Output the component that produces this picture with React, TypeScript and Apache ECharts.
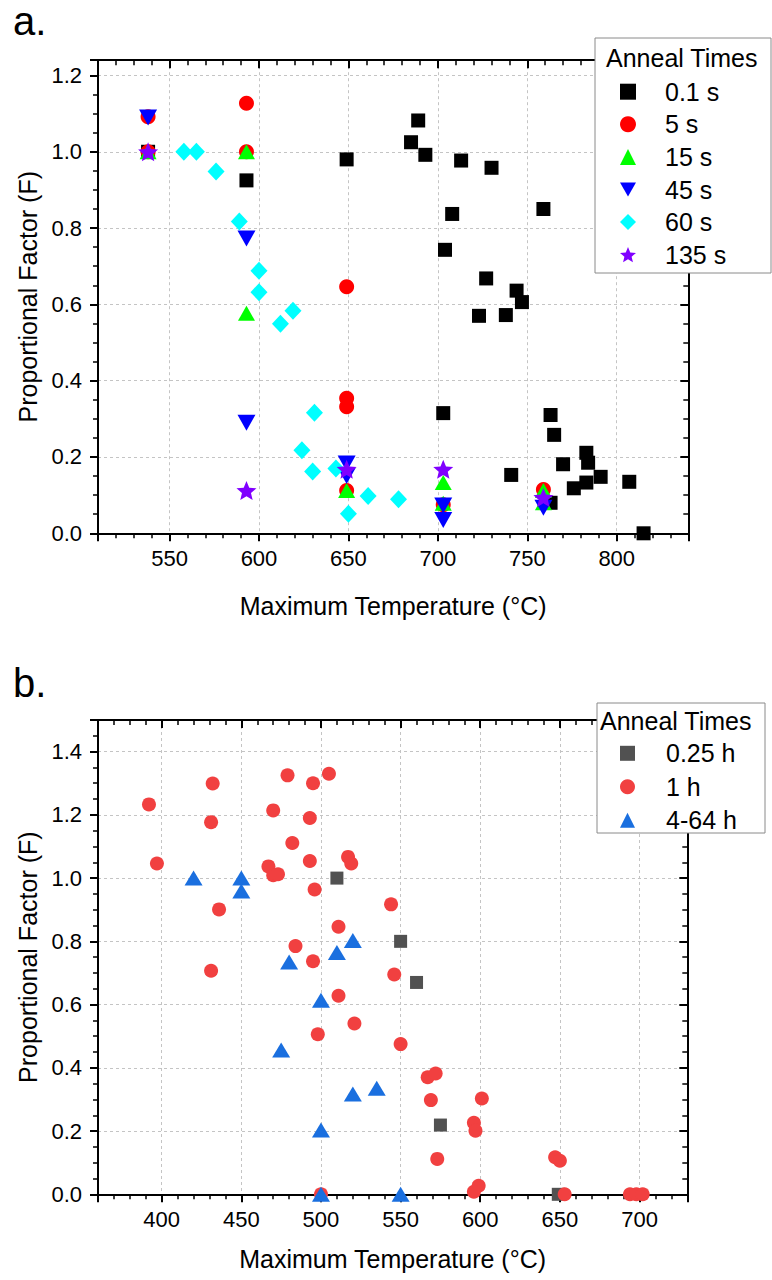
import React, { useEffect, useRef } from "react";
import * as echarts from "echarts";

const FONT = "'Liberation Sans', Arial, sans-serif";

// ---------- Chart a data ----------
const a01s: [number, number][] = [
  [538, 1.0], [593, 0.925], [689, 1.082], [685, 1.025], [693, 0.992], [649, 0.98],
  [713, 0.977], [730, 0.958], [759, 0.85], [708, 0.837], [704, 0.743], [727, 0.668],
  [744, 0.636], [747, 0.606], [723, 0.57], [738, 0.572], [703, 0.315], [763, 0.31],
  [765, 0.258], [783, 0.211], [784, 0.185], [770, 0.181], [741, 0.153], [791, 0.148],
  [807, 0.135], [783, 0.133], [776, 0.118], [763, 0.08], [815, 0.0],
];
const a5s: [number, number][] = [
  [538, 1.092], [538, 1.0], [593, 1.127], [593, 1.0], [649, 0.646], [649, 0.354],
  [649, 0.332], [649, 0.112], [703, 0.075], [759, 0.115],
];
const a15s: [number, number][] = [
  [538, 1.0], [593, 1.0], [593, 0.577], [649, 0.112], [703, 0.133], [703, 0.079],
  [759, 0.112], [759, 0.08],
];
const a45s: [number, number][] = [
  [538, 1.09], [593, 0.773], [593, 0.29], [649, 0.183], [649, 0.15], [703, 0.073],
  [703, 0.035], [759, 0.067],
];
const a60s: [number, number][] = [
  [558, 1.0], [565, 1.0], [576, 0.948], [589, 0.817], [600, 0.688], [600, 0.632],
  [619, 0.583], [612, 0.549], [631, 0.316], [624, 0.218], [630, 0.162], [643, 0.17],
  [650, 0.051], [661, 0.098], [678, 0.089],
];
const a135s: [number, number][] = [
  [538, 1.0], [593, 0.112], [649, 0.168], [703, 0.168], [759, 0.094],
];
const aNames = ["0.1 s", "5 s", "15 s", "45 s", "60 s", "135 s"];

// ---------- Chart b data ----------
const b025h: [number, number][] = [
  [510, 1.0], [550, 0.8], [560, 0.67], [575, 0.219], [649, 0.0],
];
const b1h: [number, number][] = [
  [392, 1.233], [432, 1.299], [431, 1.177], [397, 1.046], [436, 0.901], [431, 0.707],
  [479, 1.325], [505, 1.33], [495, 1.3], [470, 1.214], [493, 1.19], [482, 1.111],
  [467, 1.037], [470, 1.009], [473, 1.012], [493, 1.054], [496, 0.964], [517, 1.067],
  [519, 1.046], [544, 0.917], [511, 0.846], [484, 0.785], [495, 0.737], [546, 0.695],
  [511, 0.628], [521, 0.54], [498, 0.506], [550, 0.475], [567, 0.37], [572, 0.382],
  [569, 0.298], [601, 0.303], [596, 0.226], [597, 0.201], [573, 0.112], [647, 0.117],
  [650, 0.106], [599, 0.027], [596, 0.008], [500, 0.0], [653, 0.0], [694, 0.0],
  [698, 0.0], [702, 0.0],
];
const b464h: [number, number][] = [
  [420, 1.0], [450, 1.0], [450, 0.959], [480, 0.735], [510, 0.765], [520, 0.803],
  [500, 0.614], [475, 0.456], [520, 0.317], [535, 0.335], [500, 0.203], [500, 0.0],
  [550, 0.0],
];
const bNames = ["0.25 h", "1 h", "4-64 h"];

const DOWN_TRI = "path://M0,0 L18,0 L9,16 Z";
const STAR =
  "path://M10,0 L12.645,6.36 L19.511,6.91 L14.28,11.39 L15.878,18.09 L10,14.5 L4.122,18.09 L5.72,11.39 L0.489,6.91 L7.355,6.36 Z";

function axisPair(
  gridIndex: number,
  xmin: number,
  xmax: number,
  ymin: number,
  ymax: number,
  xNameGap: number
) {
  const tickLine = { color: "#000", width: 2 };
  const minorLine = { color: "#000", width: 1.5 };
  const split = { show: true, lineStyle: { color: "#c4c4c4", type: [3, 3], width: 1 } };
  const xMain = {
    type: "value",
    gridIndex,
    position: "bottom",
    min: xmin,
    max: xmax,
    minInterval: 50,
    maxInterval: 50,
    splitNumber: 6,
    name: "Maximum Temperature (°C)",
    nameLocation: "middle",
    nameGap: xNameGap,
    nameTextStyle: { fontSize: 25, color: "#000", fontFamily: FONT },
    axisLine: { show: true, onZero: false, lineStyle: { color: "#000", width: 2 } },
    axisTick: { show: true, inside: false, length: 8, lineStyle: tickLine },
    minorTick: { show: true, splitNumber: 5, length: 5, lineStyle: minorLine },
    axisLabel: {
      fontSize: 22, color: "#000", fontFamily: FONT, margin: 14,
      showMinLabel: false, showMaxLabel: false,
    },
    splitLine: split,
    minorSplitLine: { show: false },
  };
  const xTop = {
    type: "value",
    gridIndex,
    position: "top",
    min: xmin,
    max: xmax,
    minInterval: 50,
    maxInterval: 50,
    splitNumber: 6,
    axisLine: { show: true, onZero: false, lineStyle: { color: "#000", width: 2 } },
    axisTick: { show: true, inside: true, length: 8, lineStyle: tickLine },
    minorTick: { show: true, splitNumber: 5, length: 5, lineStyle: minorLine },
    axisLabel: { show: false },
    splitLine: { show: false },
  };
  const yMain = {
    type: "value",
    gridIndex,
    position: "left",
    min: ymin,
    max: ymax,
    interval: 0.2,
    name: "Proportional Factor (F)",
    nameLocation: "middle",
    nameGap: 56,
    nameTextStyle: { fontSize: 25, color: "#000", fontFamily: FONT },
    axisLine: { show: true, onZero: false, lineStyle: { color: "#000", width: 2 } },
    axisTick: { show: true, inside: false, length: 8, lineStyle: tickLine },
    minorTick: { show: true, splitNumber: 4, length: 5, lineStyle: minorLine },
    axisLabel: {
      fontSize: 22, color: "#000", fontFamily: FONT, margin: 16,
      showMaxLabel: false,
      formatter: (v: number) => v.toFixed(1),
    },
    splitLine: split,
    minorSplitLine: { show: false },
  };
  const yRight = {
    type: "value",
    gridIndex,
    position: "right",
    min: ymin,
    max: ymax,
    interval: 0.2,
    axisLine: { show: true, onZero: false, lineStyle: { color: "#000", width: 2 } },
    axisTick: { show: true, inside: true, length: 8, lineStyle: tickLine },
    minorTick: { show: true, splitNumber: 4, length: 5, lineStyle: minorLine },
    axisLabel: { show: false },
    splitLine: { show: false },
  };
  return { x: [xMain, xTop], y: [yMain, yRight] };
}

function scatter(
  name: string,
  data: [number, number][],
  idx: number,
  symbol: string,
  size: number | number[],
  color: string
) {
  return {
    type: "scatter",
    name,
    data,
    xAxisIndex: idx,
    yAxisIndex: idx,
    symbol,
    symbolSize: size,
    itemStyle: { color, opacity: 1 },
    emphasis: { disabled: true },
    clip: true,
  };
}

export default function App() {
  const ref = useRef<HTMLDivElement>(null);
  useEffect(() => {
    document.body.style.margin = "0";
    const chart = echarts.init(ref.current!, null, { renderer: "svg" });
    const A = axisPair(0, 510, 840, 0, 1.24, 60);
    const B = axisPair(1, 360, 730, 0, 1.5, 52);
    const legendText = (pad: number) => ({
      fontSize: 25,
      lineHeight: 26,
      color: "#000",
      fontFamily: FONT,
      padding: [0, 0, 0, pad],
    });
    const option: any = {
      animation: false,
      backgroundColor: "#fff",
      grid: [
        { left: 98, top: 60.2, width: 590.3, height: 473.1, containLabel: false, outerBoundsMode: "none" },
        { left: 98, top: 720, width: 589.3, height: 474.3, containLabel: false, outerBoundsMode: "none" },
      ],
      xAxis: [A.x[0], A.x[1], B.x[0], B.x[1]],
      yAxis: [A.y[0], A.y[1], B.y[0], B.y[1]],
      legend: [
        {
          orient: "vertical",
          left: 620,
          top: 78.7,
          padding: 0,
          itemWidth: 16,
          itemHeight: 16,
          itemGap: 6.6,
          z: 200,
          selectedMode: false,
          textStyle: legendText(24),
          data: [
            { name: aNames[0], icon: "rect" },
            { name: aNames[1], icon: "circle" },
            { name: aNames[2], icon: "triangle" },
            { name: aNames[3], icon: DOWN_TRI },
            { name: aNames[4], icon: "diamond" },
            { name: aNames[5], icon: STAR },
          ],
        },
        {
          orient: "vertical",
          left: 620,
          top: 740.3,
          padding: 0,
          itemWidth: 15,
          itemHeight: 15,
          itemGap: 7.5,
          z: 200,
          selectedMode: false,
          textStyle: legendText(26),
          data: [
            { name: bNames[0], icon: "rect" },
            { name: bNames[1], icon: "circle" },
            { name: bNames[2], icon: "triangle" },
          ],
        },
      ],
      graphic: [
        {
          type: "text", x: 13, y: 21, z: 100,
          style: { text: "a.", fontSize: 40, fill: "#000", fontFamily: FONT, verticalAlign: "middle" },
        },
        {
          type: "text", x: 13, y: 683, z: 100,
          style: { text: "b.", fontSize: 40, fill: "#000", fontFamily: FONT, verticalAlign: "middle" },
        },
        {
          type: "rect", z: 100,
          shape: { x: 595, y: 38, width: 176, height: 235 },
          style: { fill: "#fff", stroke: "#8a8a8a", lineWidth: 1 },
        },
        {
          type: "text", x: 606, y: 58, z: 101,
          style: {
            text: "Anneal Times", fontSize: 25, fill: "#000", fontFamily: FONT,
            verticalAlign: "middle", align: "left",
          },
        },
        {
          type: "rect", z: 100,
          shape: { x: 597, y: 703, width: 168, height: 130 },
          style: { fill: "#fff", stroke: "#8a8a8a", lineWidth: 1 },
        },
        {
          type: "text", x: 600, y: 721, z: 101,
          style: {
            text: "Anneal Times", fontSize: 25, fill: "#000", fontFamily: FONT,
            verticalAlign: "middle", align: "left",
          },
        },
      ],
      series: [
        scatter(aNames[0], a01s, 0, "rect", 14, "#000000"),
        scatter(aNames[1], a5s, 0, "circle", 15, "#ff0000"),
        scatter(aNames[2], a15s, 0, "triangle", [17, 15], "#00ff00"),
        scatter(aNames[3], a45s, 0, DOWN_TRI, [18, 16], "#0000ff"),
        scatter(aNames[4], a60s, 0, "diamond", [17, 18], "#00ffff"),
        scatter(aNames[5], a135s, 0, STAR, [20, 19], "#8000ff"),
        scatter(bNames[0], b025h, 2, "rect", 13, "#515151"),
        scatter(bNames[1], b1h, 2, "circle", 14, "#f14040"),
        scatter(bNames[2], b464h, 2, "triangle", [18, 15], "#1a6fdf"),
      ],
    };
    chart.setOption(option);
    return () => chart.dispose();
  }, []);
  return (
    <div
      ref={ref}
      style={{ position: "absolute", left: 0, top: 0, width: 772, height: 1280 }}
    />
  );
}
